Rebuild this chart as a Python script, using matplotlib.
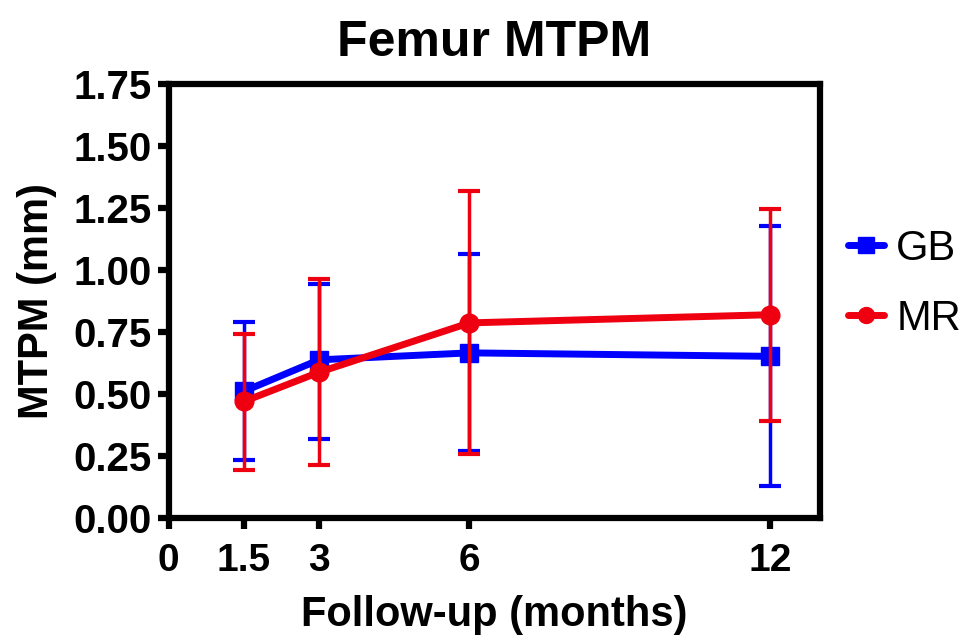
import matplotlib.pyplot as plt

plt.rcParams['font.family'] = ['Liberation Sans', 'DejaVu Sans']

months = [1.5, 3, 6, 12]

gb_mean = [0.51, 0.637, 0.665, 0.651]
gb_upper = [0.789, 0.943, 1.065, 1.177]
gb_lower = [0.231, 0.317, 0.271, 0.126]

mr_mean = [0.469, 0.587, 0.786, 0.819]
mr_upper = [0.742, 0.962, 1.32, 1.245]
mr_lower = [0.193, 0.212, 0.258, 0.392]

x_ticks = [0, 1.5, 3, 6, 12]
x_tick_labels = ['0', '1.5', '3', '6', '12']
y_ticks = [0, 0.25, 0.5, 0.75, 1.0, 1.25, 1.5, 1.75]

blue = '#0000FF'
red = '#EE0010'

fig = plt.figure(figsize=(9.64, 6.36), dpi=100)
ax = fig.add_axes([0.175, 0.186, 0.676, 0.682])

def draw(mean, lower, upper, color, marker, ms, label, z):
    yerr = [[m - lo for m, lo in zip(mean, lower)],
            [hi - m for m, hi in zip(mean, upper)]]
    ax.plot(months, mean, color=color, lw=5, marker=marker, ms=ms,
            label=label, zorder=z, solid_capstyle='round')
    ax.errorbar(months, mean, yerr=yerr, fmt='none', ecolor=color,
                elinewidth=2.5, capsize=8, capthick=3, zorder=z + 0.5)

draw(gb_mean, gb_lower, gb_upper, blue, 's', 13, 'GB', 3)
draw(mr_mean, mr_lower, mr_upper, red, 'o', 13.5, 'MR', 4)

ax.set_xlim(0, 13)
ax.set_ylim(0, 1.75)
ax.set_xticks(x_ticks)
ax.set_xticklabels(x_tick_labels)
ax.set_yticks(y_ticks)
ax.set_yticklabels(['%.2f' % v for v in y_ticks])

for s in ax.spines.values():
    s.set_linewidth(4.5)
    s.set_capstyle('projecting')
ax.tick_params(width=4.5, length=8, labelsize=28)
ax.tick_params(axis='x', pad=10)
ax.tick_params(axis='y', pad=4, labelsize=29)
for lab in ax.get_xticklabels() + ax.get_yticklabels():
    lab.set_fontweight('bold')

ax.set_title('Femur MTPM', fontsize=36, fontweight='bold', pad=20)
ax.set_xlabel('Follow-up (months)', fontsize=30, fontweight='bold', labelpad=12)
ax.set_ylabel('MTPM (mm)', fontsize=30, fontweight='bold', labelpad=12)

leg = fig.legend(loc='center left', bbox_to_anchor=(0.88, 0.5535), frameon=False,
                 fontsize=30, handlelength=0.85, handletextpad=0.3,
                 labelspacing=0.72, markerscale=0.85, borderpad=0,
                 borderaxespad=0)

fig.savefig('out.png', dpi=100)
